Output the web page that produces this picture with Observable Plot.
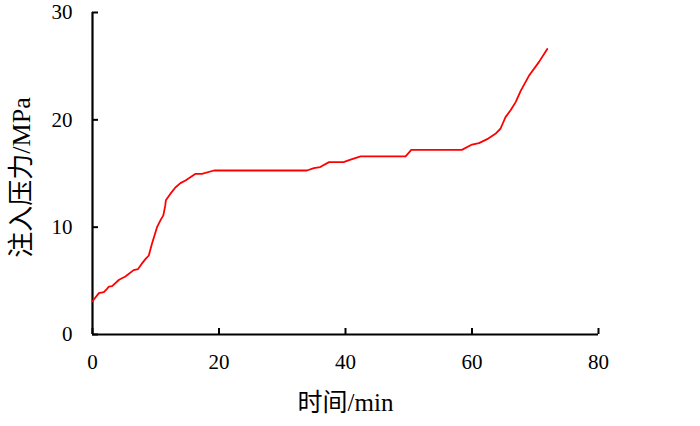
<!DOCTYPE html>
<html>
<head>
<meta charset="utf-8">
<script src="https://cdn.jsdelivr.net/npm/d3@7"></script>
<script src="https://cdn.jsdelivr.net/npm/@observablehq/plot@0.6"></script>
<style>
  html, body { margin: 0; padding: 0; background: #fff; }
  #chart svg { display: block; }
</style>
</head>
<body>
<div id="chart"></div>
<script>
const timeMin = [0, 1.0, 1.8, 2.3, 2.6, 3.1, 4.2, 5.2, 6.5, 7.2, 7.8, 8.4, 8.9, 9.4, 10.2, 10.8, 11.2, 11.5, 11.6, 12.3, 13.1, 13.9, 14.7, 16.3, 17.3, 19.2, 33.9, 35.0, 36.0, 37.4, 39.7, 40.8, 42.4, 49.5, 50.4, 58.4, 60.0, 61.1, 62.4, 63.7, 64.5, 65.3, 66.1, 66.9, 67.7, 69.0, 70.6, 71.9];
const pressureMPa = [3.1, 3.85, 3.95, 4.25, 4.47, 4.5, 5.1, 5.4, 6.0, 6.1, 6.6, 7.05, 7.36, 8.45, 10.0, 10.7, 11.1, 12.0, 12.5, 13.1, 13.7, 14.1, 14.35, 14.97, 14.97, 15.28, 15.28, 15.5, 15.6, 16.06, 16.06, 16.3, 16.6, 16.6, 17.2, 17.2, 17.7, 17.83, 18.2, 18.7, 19.17, 20.25, 20.9, 21.65, 22.7, 24.1, 25.4, 26.6];
const xTicks = [0, 20, 40, 60, 80];
const yTicks = [0, 10, 20, 30];
const xLabel = "时间/min";
const yLabel = "注入压力/MPa";

const data = timeMin.map((t, i) => ({t, p: pressureMPa[i]}));
const font = "'Liberation Serif', 'Times New Roman', 'Noto Sans CJK SC', serif";
const W = 700, H = 426, ML = 92, MR = 102, MT = 12, MB = 92;
const PW = W - ML - MR, PH = H - MT - MB;

const chart = Plot.plot({
  width: W,
  height: H,
  marginLeft: ML,
  marginRight: MR,
  marginTop: MT,
  marginBottom: MB,
  style: {fontFamily: font, fontSize: "21px", color: "#000", background: "#fff"},
  x: {domain: [0, 80], ticks: xTicks, tickSize: 0, tickPadding: 20, label: null},
  y: {domain: [0, 30], ticks: yTicks, tickSize: 0, tickPadding: 20, label: null},
  marks: [
    Plot.tickY(yTicks, {y: d => d, stroke: "#000", strokeWidth: 2, insetRight: PW - 6}),
    Plot.tickX(xTicks, {x: d => d, stroke: "#000", strokeWidth: 2, insetTop: PH - 6}),
    Plot.ruleX([0], {stroke: "#000", strokeWidth: 2.2}),
    Plot.ruleY([0], {stroke: "#000", strokeWidth: 2.2}),
    Plot.line(data, {x: "t", y: "p", stroke: "#ff0000", strokeWidth: 1.8}),
    Plot.text([xLabel], {frameAnchor: "bottom", textAnchor: "middle", dy: 76, fontSize: 25, fill: "#000"}),
    Plot.text([yLabel], {frameAnchor: "left", textAnchor: "middle", dx: -71, dy: 4, rotate: -90, fontSize: 26, fill: "#000"})
  ]
});
document.getElementById("chart").appendChild(chart);
</script>
</body>
</html>
